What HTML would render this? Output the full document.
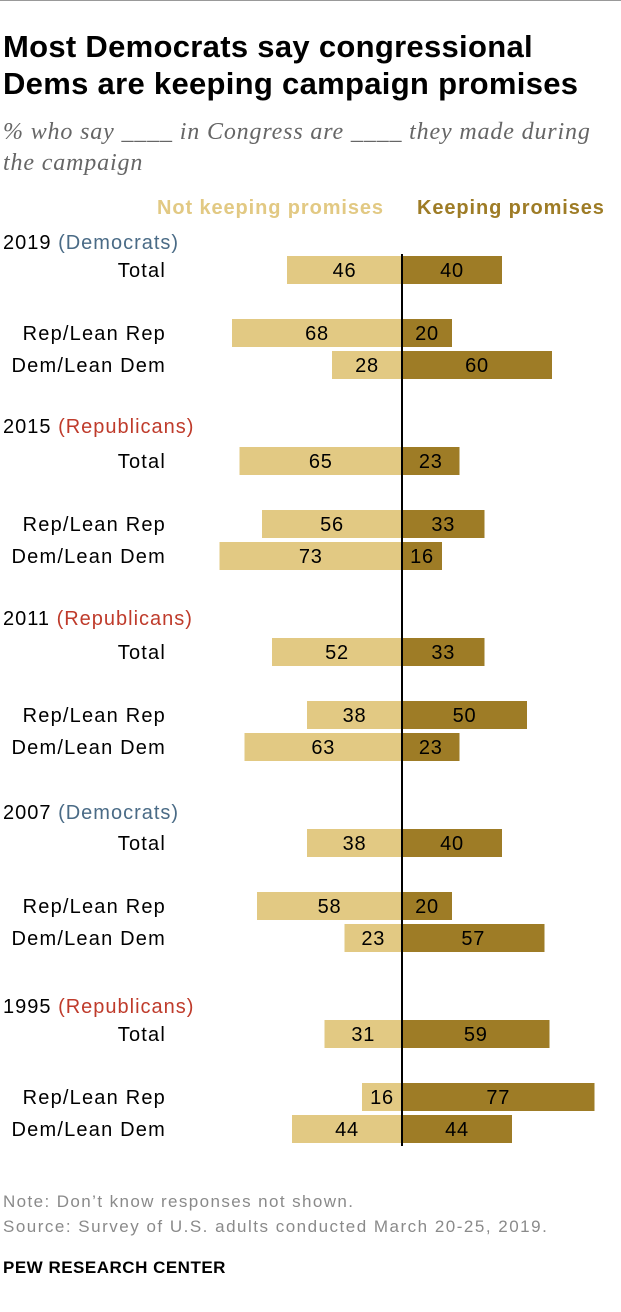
<!DOCTYPE html>
<html><head><meta charset="utf-8"><style>
body{margin:0;width:621px;height:1312px;background:#fff;font-family:"Liberation Sans",sans-serif;position:relative;overflow:hidden}
.t{position:absolute;white-space:nowrap}
</style></head><body>
<div class="t" style="left:0;top:0;width:621px;height:1px;background:#999"></div>
<div class="t" style="left:3px;top:28px;font-size:31px;font-weight:bold;line-height:37px;color:#000;letter-spacing:0.3px">Most Democrats say congressional<br>Dems are keeping campaign promises</div>
<div class="t" style="left:3px;top:117px;font-family:'Liberation Serif',serif;font-style:italic;font-size:24px;line-height:31px;color:#666;letter-spacing:0.85px">% who say ____ in Congress are ____ they made during<br>the campaign</div>
<div class="t" style="left:157px;top:197px;font-size:20px;font-weight:bold;color:#e2c983;letter-spacing:0.9px">Not keeping promises</div>
<div class="t" style="left:417px;top:197px;font-size:20px;font-weight:bold;color:#9e7c26;letter-spacing:0.9px">Keeping promises</div>
<svg id="chart" width="621" height="1312" style="position:absolute;left:0;top:0"></svg>
<div class="t" style="left:3px;top:1192px;font-size:17px;color:#8a8a8a;letter-spacing:1.4px">Note: Don’t know responses not shown.</div>
<div class="t" style="left:3px;top:1217px;font-size:17px;color:#8a8a8a;letter-spacing:1.5px">Source: Survey of U.S. adults conducted March 20-25, 2019.</div>
<div class="t" style="left:3px;top:1258px;font-size:17px;font-weight:bold;color:#000;letter-spacing:0.5px">PEW RESEARCH CENTER</div>
<script>
const groups=["2019","2015","2011","2007","1995"];
const parties=["(Democrats)","(Republicans)","(Republicans)","(Democrats)","(Republicans)"];
const rowLabels=["Total","Rep/Lean Rep","Dem/Lean Dem"];
const notKeeping=[[46,68,28],[65,56,73],[52,38,63],[38,58,23],[31,16,44]];
const keeping=[[40,20,60],[23,33,16],[33,50,23],[40,20,57],[59,77,44]];
const svg=document.getElementById('chart');const NS='http://www.w3.org/2000/svg';
const cx=402,k=2.5,bh=28;
const x=v=>v*k;
function mk(t,a){const e=document.createElementNS(NS,t);for(const n in a)e.setAttribute(n,a[n]);svg.appendChild(e);return e;}
const gTop=[241,432,623,814,1005];
const hTop=[241,425,617,811,1005];
groups.forEach((g,gi)=>{
 const gy=gTop[gi];
 const h=mk('text',{x:3,y:hTop[gi]+8,'font-size':20,'letter-spacing':1,fill:'#000','font-family':'Liberation Sans'});
 
 
 h.textContent=g+' ';
 const ts=document.createElementNS(NS,'tspan');ts.setAttribute('fill',parties[gi]==='(Democrats)'?'#4a6b86':'#bf3b2b');ts.textContent=parties[gi];h.appendChild(ts);
 const offs=[29,92,124];
 rowLabels.forEach((r,ri)=>{
  const cy=gy+offs[ri];
  const l=mk('text',{x:166,y:cy+7,'font-size':20,'letter-spacing':1.2,'text-anchor':'end',fill:'#000','font-family':'Liberation Sans'});
  
  
  l.textContent=r;
  const a=notKeeping[gi][ri],b=keeping[gi][ri];
  const r1=mk('rect',{x:cx-x(a),y:cy-bh/2,width:x(a),height:bh,fill:'#e2c983'});
  
  
  const r2=mk('rect',{x:cx,y:cy-bh/2,width:x(b),height:bh,fill:'#9e7c26'});
  
  
  const t1=mk('text',{x:cx-x(a)/2,y:cy+7,'font-size':20,'letter-spacing':0.8,'text-anchor':'middle',fill:'#000','font-family':'Liberation Sans'});
  
  
  t1.textContent=a;
  const t2=mk('text',{x:cx+x(b)/2,y:cy+7,'font-size':20,'letter-spacing':0.8,'text-anchor':'middle',fill:'#000','font-family':'Liberation Sans'});
  
  
  t2.textContent=b;
 });
});
const ln=mk('line',{x1:cx,x2:cx,y1:254,y2:1146,stroke:'#000','stroke-width':2});


</script>
</body></html>
